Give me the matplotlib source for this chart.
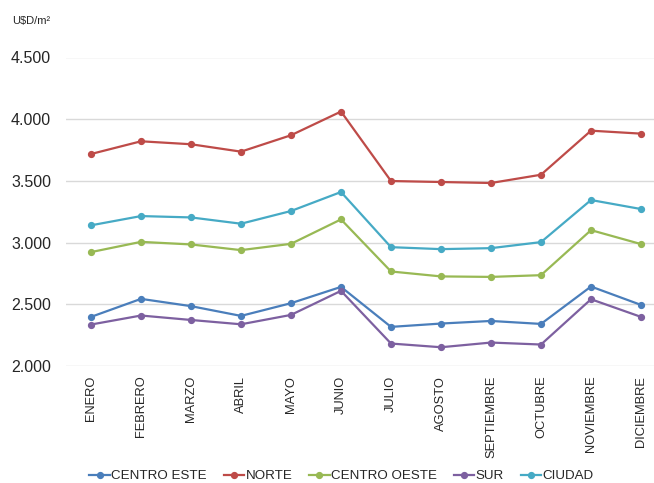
import matplotlib
matplotlib.use("Agg")
import matplotlib.pyplot as plt
from matplotlib.ticker import FuncFormatter

plt.rcParams['font.family'] = ['Liberation Sans', 'DejaVu Sans']

months = ["ENERO", "FEBRERO", "MARZO", "ABRIL", "MAYO", "JUNIO", "JULIO",
          "AGOSTO", "SEPTIEMBRE", "OCTUBRE", "NOVIEMBRE", "DICIEMBRE"]

centro_este = [2398, 2544, 2485, 2406, 2509, 2641, 2317, 2344, 2365, 2341, 2644, 2495]
norte = [3718, 3821, 3797, 3737, 3870, 4062, 3499, 3491, 3483, 3550, 3907, 3883]
centro_oeste = [2923, 3006, 2985, 2939, 2990, 3188, 2766, 2726, 2722, 2736, 3101, 2988]
sur = [2336, 2409, 2373, 2338, 2414, 2609, 2182, 2152, 2190, 2174, 2541, 2398]
ciudad = [3140, 3215, 3204, 3153, 3256, 3410, 2963, 2947, 2955, 3004, 3345, 3272]

series = [
    ("CENTRO ESTE", centro_este, "#4A7EBB"),
    ("NORTE", norte, "#BE4B48"),
    ("CENTRO OESTE", centro_oeste, "#98B954"),
    ("SUR", sur, "#7D60A0"),
    ("CIUDAD", ciudad, "#46AAC5"),
]

yticks = [2000, 2500, 3000, 3500, 4000, 4500]

fig = plt.figure(figsize=(6.54, 4.83), dpi=100)
W, H = 654, 483
ax = fig.add_axes([66 / W, 1 - 366 / H, (654 - 66) / W, (366 - 57.5) / H])

x = list(range(len(months)))
for name, vals, col in series:
    ax.plot(x, vals, color=col, lw=1.6, marker='o', markersize=4.2,
            label=name, zorder=3)

ax.set_ylim(2000, 4500)
ax.set_xlim(-0.5, 11.26)
ax.set_yticks(yticks)
ax.yaxis.set_major_formatter(FuncFormatter(lambda v, p: f"{int(v):,}".replace(",", ".")))
ax.set_xticks(x)
ax.set_xticklabels(months, rotation=90, fontsize=9.3, color="#262626")
ax.tick_params(axis='y', labelsize=11.5, colors="#262626", length=0, pad=10.8)
ax.tick_params(axis='x', length=0, pad=7)
ax.grid(axis='y', color="#D9D9D9", lw=1)
ax.set_axisbelow(True)
for s in ax.spines.values():
    s.set_visible(False)

fig.text(12 / W, 1 - 21 / H, "U$D/m²", fontsize=8, color="#262626", va='center', ha='left')

fig.legend(loc='center', bbox_to_anchor=(341.5 / W, 1 - 476 / H), ncol=5, frameon=False,
           fontsize=9.6, handlelength=1.55, handletextpad=0.1, columnspacing=1.25,
           borderaxespad=0, borderpad=0, labelcolor="#262626")

fig.savefig("out.png", dpi=100)
